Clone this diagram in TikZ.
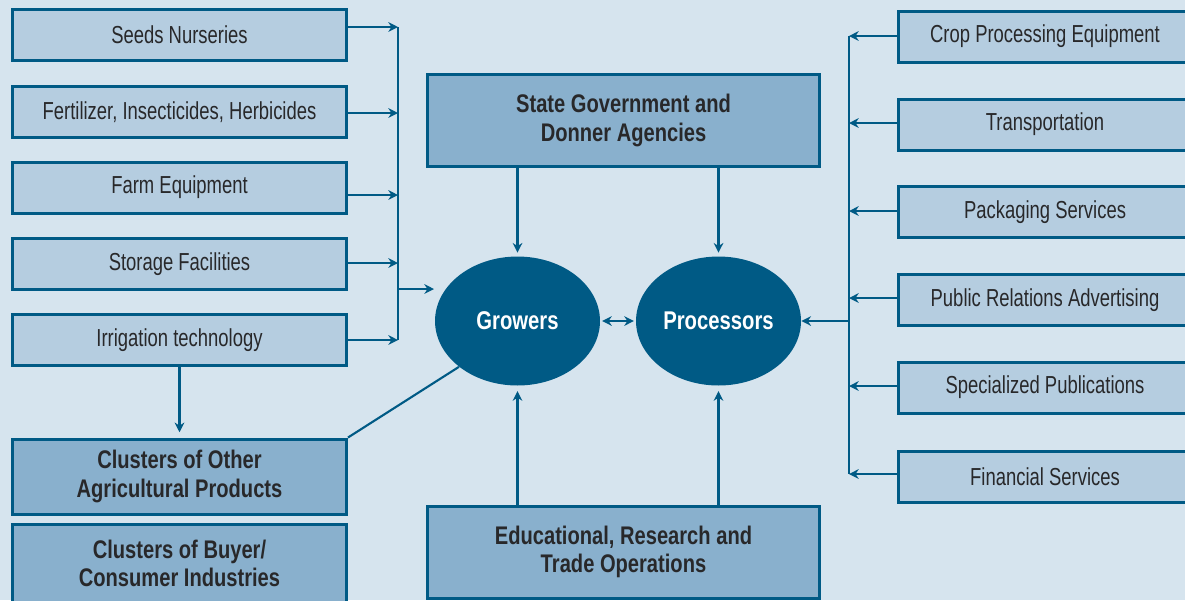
\documentclass[tikz,border=0pt]{standalone}
\usepackage{fontspec}
\setmainfont{Liberation Sans}[FakeStretch=0.75,BoldFeatures={FakeStretch=0.79}]
\usetikzlibrary{positioning,arrows.meta,shapes.geometric}
\definecolor{bgblue}{RGB}{214,228,238}
\definecolor{ltblue}{RGB}{181,205,224}
\definecolor{mdblue}{RGB}{137,176,205}
\definecolor{dkblue}{RGB}{0,90,133}
\definecolor{txt}{RGB}{40,40,42}
\tikzset{lbox/.style={draw=dkblue,fill=ltblue,line width=0.06cm,inner sep=0pt,
		minimum width=6.68cm,minimum height=1.02cm,text=txt,font=\fontsize{14}{16}\selectfont},
	 rbox/.style={lbox,minimum width=5.88cm},
	 bbox/.style={draw=dkblue,fill=mdblue,line width=0.06cm,inner sep=0pt,align=center,
		text=txt,font=\bfseries\fontsize{14.5}{16}\selectfont},
	 oval/.style={ellipse,fill=dkblue,inner sep=0pt,minimum width=3.3cm,minimum height=2.58cm,
		text=white,font=\bfseries\fontsize{14.6}{16}\selectfont},
	 arr/.style={-{Stealth[length=5.5pt,width=5.5pt]},dkblue,line width=1.2pt},
	 bar/.style={dkblue,line width=0.9pt},
	 x=0.02cm,y=-0.02cm
	 }

\begin{document}
\begin{tikzpicture} % agro-industry cluster
	\fill[bgblue] (0,0) rectangle (1185,600);
	\useasboundingbox (0,0) rectangle (1185,600);
	% left column
	\node[lbox] (sn) at (179.5,35) {Seeds Nurseries};
	\node[lbox] (fi) at (179.5,112) {Fertilizer, Insecticides, Herbicides};
	\node[lbox] (fe) at (179.5,187.5) {Farm Equipment};
	\node[lbox] (sf) at (179.5,264) {Storage Facilities};
	\node[lbox] (it) at (179.5,340) {Irrigation technology};
	\node[bbox,minimum width=6.68cm,minimum height=1.5cm] (co) at (179.5,476.5) {Clusters of Other\\Agricultural Products};
	\node[bbox,minimum width=6.68cm,minimum height=1.56cm] (cb) at (179.5,563) {Clusters of Buyer/\\Consumer Industries};
	% centre
	\node[bbox,minimum width=7.86cm,minimum height=1.84cm] (sg) at (623.5,120.5) {State Government and\\Donner Agencies};
	\node[bbox,minimum width=7.86cm,minimum height=1.84cm] (er) at (623.5,552) {Educational, Research and\\Trade Operations};
	\node[oval] (gr) at (517.5,321) {Growers};
	\node[oval] (pr) at (718.5,321) {Processors};
	% right column
	\node[rbox] (cp) at (1045,36.5) {Crop Processing Equipment};
	\node[rbox] (tr) at (1045,124.5) {Transportation};
	\node[rbox] (ps) at (1045,212) {Packaging Services};
	\node[rbox] (pa) at (1045,300) {Public Relations Advertising};
	\node[rbox] (sp) at (1045,387.5) {Specialized Publications};
	\node[rbox] (fs) at (1045,476.5) {Financial Services};
	% brackets
	\coordinate (l1) at (398,27);  \coordinate (l2) at (398,113);
	\coordinate (l3) at (398,195); \coordinate (l4) at (398,263);
	\coordinate (l5) at (398,340); \coordinate (lm) at (398,289);
	\coordinate (lt) at (434,289);
	\coordinate (r1) at (849,36);  \coordinate (r2) at (849,123);
	\coordinate (r3) at (849,211); \coordinate (r4) at (849,298);
	\coordinate (r5) at (849,386); \coordinate (r6) at (849,474);
	\coordinate (rm) at (849,321);
	\draw[bar] (l1) -- (l5); \draw[bar] (r1) -- (r6);
	\draw[arr] (sn.east |- l1) -- (l1);
	\draw[arr] (fi.east |- l2) -- (l2);
	\draw[arr] (fe.east |- l3) -- (l3);
	\draw[arr] (sf.east |- l4) -- (l4);
	\draw[arr] (it.east |- l5) -- (l5);
	\draw[arr] (lm) -- (lt);
	\draw[arr] (cp.west |- r1) -- (r1);
	\draw[arr] (tr.west |- r2) -- (r2);
	\draw[arr] (ps.west |- r3) -- (r3);
	\draw[arr] (pa.west |- r4) -- (r4);
	\draw[arr] (sp.west |- r5) -- (r5);
	\draw[arr] (fs.west |- r6) -- (r6);
	\draw[arr] (rm) -- (pr.east);
	% links
	\draw[arr,shorten >=2pt] (gr.north |- sg.south) -- (gr.north);
	\draw[arr,shorten >=2pt] (pr.north |- sg.south) -- (pr.north);
	\draw[arr,shorten >=3pt] (gr.south |- er.north) -- (gr.south);
	\draw[arr,shorten >=3pt] (pr.south |- er.north) -- (pr.south);
	\draw[arr,{Stealth[length=5.5pt,width=5.5pt]}-{Stealth[length=5.5pt,width=5.5pt]},shorten >=1pt,shorten <=1pt] (gr.east) -- (pr.west);
	\draw[arr,shorten >=3pt] (it.south) -- (co.north);
	\draw[dkblue,line width=1.2pt] (gr.south west) -- (co.north east);
\end{tikzpicture}
\end{document}
